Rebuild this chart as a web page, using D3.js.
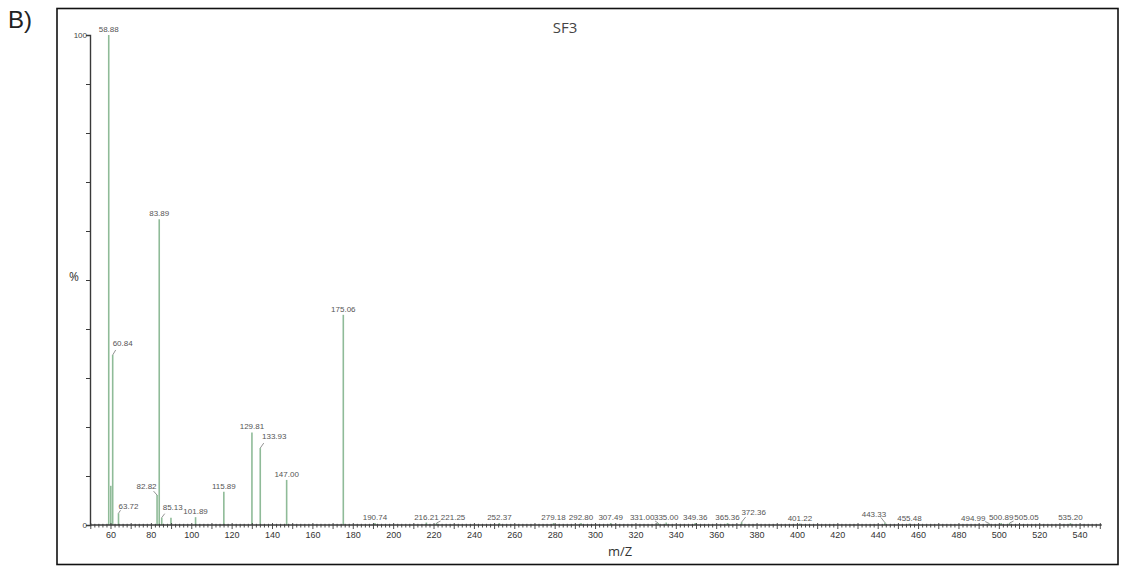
<!DOCTYPE html>
<html>
<head>
<meta charset="utf-8">
<script src="https://cdn.jsdelivr.net/npm/d3@7"></script>
<style>
  html, body { margin: 0; padding: 0; background: #fff; }
  svg { display: block; }
</style>
</head>
<body>
<svg id="chart" width="1126" height="567"></svg>
<script>
// Mass spectrum of fraction SF3: peak m/z values, relative intensities (%) and labels
const peakMz = [58.88, 59.90, 60.84, 63.72, 82.82, 83.89, 85.13, 89.70, 101.89, 115.89,
  129.81, 133.93, 147.00, 175.06, 190.74, 216.21, 221.25, 252.37, 279.18, 292.80,
  307.49, 331.00, 335.00, 349.36, 365.36, 372.36, 401.22, 443.33, 455.48, 494.99,
  500.89, 505.05, 535.20];
const peakPct = [100, 8, 34.7, 2.4, 6.1, 62.4, 1.5, 1.5, 1.6, 6.8,
  18.9, 15.7, 9.2, 42.9, 0.4, 0.5, 0.4, 0.4, 0.4, 0.4,
  0.4, 0.4, 0.5, 0.4, 0.4, 0.6, 0.3, 0.5, 0.3, 0.3,
  0.4, 0.4, 0.4];
const peakLabels = ["58.88", null, "60.84", "63.72", "82.82", "83.89", "85.13", null, "101.89", "115.89",
  "129.81", "133.93", "147.00", "175.06", "190.74", "216.21", "221.25", "252.37", "279.18", "292.80",
  "307.49", "331.00", "335.00", "349.36", "365.36", "372.36", "401.22", "443.33", "455.48", "494.99",
  "500.89", "505.05", "535.20"];

const xMajorTicks = [60, 80, 100, 120, 140, 160, 180, 200, 220, 240, 260, 280, 300, 320, 340,
  360, 380, 400, 420, 440, 460, 480, 500, 520, 540];
const yTickLabels = [0, 100];

const chartTitle = "SF3";
const xTitle = "m/Z";
const yTitle = "%";
const panelTag = "B)";

// ---- layout ----
const svg = d3.select("#chart");
const x = d3.scaleLinear().domain([49.6, 550.7]).range([90, 1101.7]);
const y = d3.scaleLinear().domain([0, 100]).range([525, 35]);
const peakColor = "#8fbb98";
const axisColor = "#3a3a3a";
const labelColor = "#555";

// Labels that are pushed aside to avoid overlap, with a leader back to the peak
const labelNudge = {
  "60.84": { dx: 10, dy: -6, lx: 3, ly: -5 },
  "63.72": { dx: 10, dy: -1, lx: 2, ly: -3 },
  "82.82": { dx: -10.5, dy: -3.5, lx: -3.5, ly: -4 },
  "85.13": { dx: 11, dy: -4.5, lx: 3, ly: -4 },
  "133.93": { dx: 14, dy: -6.5, lx: 3.5, ly: -5 },
  "221.25": { dx: 16.5, dy: 0, lx: 4, ly: -2 },
  "331.00": { dx: -16, dy: 0, lx: -3, ly: -2 },
  "372.36": { dx: 12, dy: -4, lx: 4, ly: -5 },
  "443.33": { dx: -11, dy: -3, lx: -4, ly: -5 },
  "494.99": { dx: -16, dy: 0, lx: -4, ly: -2 },
  "505.05": { dx: 17, dy: 0, lx: 4, ly: -2 }
};

// outer frame
svg.append("rect")
  .attr("x", 57).attr("y", 8.5)
  .attr("width", 1061).attr("height", 556)
  .attr("fill", "none").attr("stroke", "#111").attr("stroke-width", 1.6);

// panel tag
svg.append("text")
  .attr("x", 8).attr("y", 28)
  .attr("font-family", "Liberation Sans, Arial, sans-serif")
  .attr("font-size", 24).attr("fill", "#222")
  .text(panelTag);

// title
svg.append("text")
  .attr("x", 565).attr("y", 33)
  .attr("text-anchor", "middle")
  .attr("font-family", "Open Sans, sans-serif")
  .attr("font-size", 15).attr("fill", "#444")
  .text(chartTitle);

// ---- peaks ----
const peaks = peakMz.map((mz, i) => ({ mz, pct: peakPct[i], label: peakLabels[i] }));

svg.append("g").selectAll("line")
  .data(peaks)
  .join("line")
  .attr("x1", d => x(d.mz)).attr("x2", d => x(d.mz))
  .attr("y1", y(0)).attr("y2", d => y(d.pct))
  .attr("stroke", peakColor).attr("stroke-width", 1.6);

// ---- x axis ----
const xAxisG = svg.append("g").attr("transform", `translate(0,${y(0)})`);
xAxisG.append("line")
  .attr("x1", x.range()[0]).attr("x2", x.range()[1])
  .attr("stroke", axisColor).attr("stroke-width", 1.4);

const minorTicks = d3.range(50, 551, 2);
xAxisG.selectAll("line.minor")
  .data(minorTicks)
  .join("line")
  .attr("class", "minor")
  .attr("x1", d => x(d)).attr("x2", d => x(d))
  .attr("y1", d => d % 10 === 0 ? -2 : -1.2)
  .attr("y2", d => d % 10 === 0 ? 4 : 2.5)
  .attr("stroke", axisColor).attr("stroke-width", 0.9);

xAxisG.selectAll("text")
  .data(xMajorTicks)
  .join("text")
  .attr("x", d => x(d)).attr("y", 13)
  .attr("text-anchor", "middle")
  .attr("font-family", "Liberation Sans, Arial, sans-serif")
  .attr("font-size", 9).attr("fill", "#333")
  .text(d => d);

// ---- y axis ----
const yAxis = d3.axisLeft(y)
  .tickValues(d3.range(0, 101, 10))
  .tickSize(4)
  .tickFormat(d => yTickLabels.includes(d) ? d : "");
const yAxisG = svg.append("g").attr("transform", `translate(${x.range()[0]},0)`).call(yAxis);
yAxisG.select(".domain").attr("stroke", axisColor).attr("stroke-width", 1.4);
yAxisG.selectAll(".tick line").attr("stroke", axisColor);
yAxisG.selectAll(".tick text")
  .attr("font-family", "Liberation Sans, Arial, sans-serif")
  .attr("font-size", 8).attr("fill", "#444").attr("x", -3);

svg.append("text")
  .attr("x", 74).attr("y", y(50) + 1)
  .attr("text-anchor", "middle")
  .attr("font-family", "Open Sans, sans-serif")
  .attr("font-size", 12).attr("fill", "#333")
  .text(yTitle);

svg.append("text")
  .attr("x", 620).attr("y", 556)
  .attr("text-anchor", "middle")
  .attr("font-family", "Open Sans, sans-serif")
  .attr("font-size", 13).attr("fill", "#333")
  .text(xTitle);

// ---- peak labels ----
const labelled = peaks.filter(d => d.label);
const labelG = svg.append("g");
labelled.forEach(d => {
  const px = x(d.mz), py = y(d.pct);
  const n = labelNudge[d.label];
  if (n) {
    labelG.append("line")
      .attr("x1", px).attr("y1", py)
      .attr("x2", px + n.lx).attr("y2", py + n.ly)
      .attr("stroke", "#777").attr("stroke-width", 0.8);
  }
  labelG.append("text")
    .attr("x", px + (n ? n.dx : 0))
    .attr("y", py - 3 + (n ? n.dy : 0))
    .attr("text-anchor", "middle")
    .attr("font-family", "Liberation Sans, Arial, sans-serif")
    .attr("font-size", 8).attr("fill", labelColor)
    .text(d.label);
});
</script>
</body>
</html>
